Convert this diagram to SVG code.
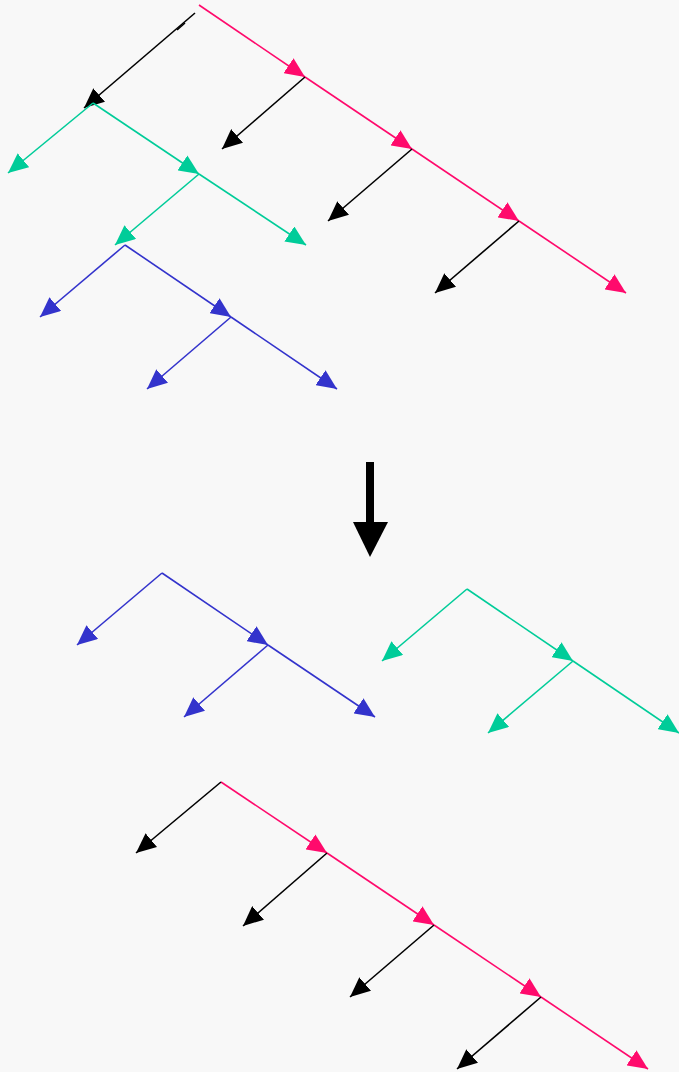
<svg xmlns="http://www.w3.org/2000/svg" width="679" height="1072" viewBox="0 0 679 1072">
  <style>
    .edge { fill: none; stroke-width: 1.6; stroke-linecap: butt; }
    .k { stroke: #000000; marker-end: url(#ah-k); }
    .p { stroke: #ff0a6c; marker-end: url(#ah-p); }
    .g { stroke: #00cc99; marker-end: url(#ah-g); }
    .b { stroke: #3333cc; marker-end: url(#ah-b); }
  </style>
  <defs>
    <marker id="ah-k" markerUnits="userSpaceOnUse" markerWidth="20" markerHeight="18" refX="20" refY="9" orient="auto" viewBox="0 0 20 18">
      <path d="M0,0 L20,9 L0,18 Z" fill="#000000"/>
    </marker>
    <marker id="ah-p" markerUnits="userSpaceOnUse" markerWidth="20" markerHeight="18" refX="20" refY="9" orient="auto" viewBox="0 0 20 18">
      <path d="M0,0 L20,9 L0,18 Z" fill="#ff0a6c"/>
    </marker>
    <marker id="ah-g" markerUnits="userSpaceOnUse" markerWidth="20" markerHeight="18" refX="20" refY="9" orient="auto" viewBox="0 0 20 18">
      <path d="M0,0 L20,9 L0,18 Z" fill="#00cc99"/>
    </marker>
    <marker id="ah-b" markerUnits="userSpaceOnUse" markerWidth="20" markerHeight="18" refX="20" refY="9" orient="auto" viewBox="0 0 20 18">
      <path d="M0,0 L20,9 L0,18 Z" fill="#3333cc"/>
    </marker>
  </defs>

  <rect width="679" height="1072" fill="#f8f8f8"/>

  <!-- upper picture: the combined tree -->
  <g id="tree-combined">
    <g id="spine-top" class="connectors">
      <line class="edge p" x1="199" y1="5" x2="305" y2="77"/>
      <line class="edge p" x1="305" y1="77" x2="412" y2="149"/>
      <line class="edge p" x1="412" y1="149" x2="519" y2="221"/>
      <line class="edge p" x1="519" y1="221" x2="626" y2="293"/>
      <line class="edge k" x1="195" y1="13" x2="84" y2="108"/>
      <line class="edge" stroke="#000" stroke-width="2.2" x1="177" y1="30" x2="185" y2="23"/>
      <line class="edge k" x1="305" y1="77" x2="222" y2="149"/>
      <line class="edge k" x1="412" y1="149" x2="328" y2="221"/>
      <line class="edge k" x1="519" y1="221" x2="435" y2="293"/>
    </g>
    <g id="green-top">
      <line class="edge g" x1="93" y1="103" x2="8" y2="173"/>
      <line class="edge g" x1="93" y1="103" x2="199" y2="174"/>
      <line class="edge g" x1="199" y1="174" x2="115" y2="245"/>
      <line class="edge g" x1="199" y1="174" x2="306" y2="245"/>
    </g>
    <g id="blue-top">
      <line class="edge b" x1="125" y1="245" x2="40" y2="317"/>
      <line class="edge b" x1="125" y1="245" x2="231" y2="317"/>
      <line class="edge b" x1="231" y1="317" x2="147" y2="389"/>
      <line class="edge b" x1="231" y1="317" x2="337" y2="389"/>
    </g>
  </g>

  <!-- transition arrow -->
  <g id="transform-arrow">
    <rect x="366" y="462" width="8" height="61" fill="#000"/>
    <path d="M353,522 L388,522 L370,557 Z" fill="#000"/>
  </g>

  <!-- lower picture: the split trees -->
  <g id="blue-bottom">
    <line class="edge b" x1="162" y1="573" x2="77" y2="645"/>
    <line class="edge b" x1="162" y1="573" x2="268" y2="645"/>
    <line class="edge b" x1="268" y1="645" x2="184" y2="717"/>
    <line class="edge b" x1="268" y1="645" x2="375" y2="717"/>
  </g>
  <g id="green-bottom">
    <line class="edge g" x1="467" y1="589" x2="382" y2="661"/>
    <line class="edge g" x1="467" y1="589" x2="573" y2="661"/>
    <line class="edge g" x1="573" y1="661" x2="488" y2="733"/>
    <line class="edge g" x1="573" y1="661" x2="679" y2="733"/>
  </g>
  <g id="spine-bottom">
    <line class="edge p" x1="221" y1="782" x2="327" y2="853"/>
    <line class="edge p" x1="327" y1="853" x2="434" y2="925"/>
    <line class="edge p" x1="434" y1="925" x2="541" y2="997"/>
    <line class="edge p" x1="541" y1="997" x2="648" y2="1069"/>
    <line class="edge k" x1="221" y1="782" x2="136" y2="853"/>
    <line class="edge k" x1="327" y1="853" x2="243" y2="926"/>
    <line class="edge k" x1="434" y1="925" x2="350" y2="997"/>
    <line class="edge k" x1="541" y1="997" x2="457" y2="1069"/>
  </g>
</svg>
